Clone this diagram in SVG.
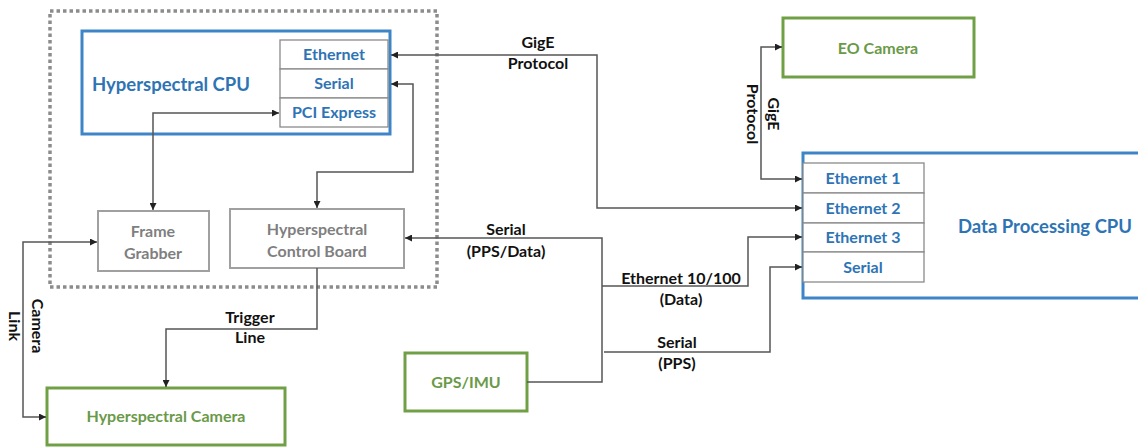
<svg xmlns="http://www.w3.org/2000/svg" width="1138" height="448" viewBox="0 0 1138 448">
<defs>
<marker id="ah" viewBox="0 0 10 10" refX="10" refY="5" markerWidth="7" markerHeight="7" markerUnits="userSpaceOnUse" orient="auto-start-reverse">
<path d="M0,0 L10,5 L0,10 z" fill="#222"/>
</marker>
<style>
.bl{fill:#fff;stroke:#3d85c6;stroke-width:3}
.gr{fill:#fff;stroke:#70a045;stroke-width:3}
.gy{fill:#fff;stroke:#a0a0a0;stroke-width:2}
.pt{fill:#fff;stroke:#8a8a8a;stroke-width:1.3}
.tb{font-family:Lato,"Liberation Sans",sans-serif;font-weight:bold;fill:#2e74b5;text-anchor:middle}
.tg{font-family:Lato,"Liberation Sans",sans-serif;font-weight:bold;fill:#6a9a48;text-anchor:middle;font-size:16px}
.ty{font-family:Lato,"Liberation Sans",sans-serif;font-weight:bold;fill:#7f7f7f;text-anchor:middle;font-size:16px}
.lb{font-family:Lato,"Liberation Sans",sans-serif;font-weight:bold;fill:#111;text-anchor:middle;font-size:16px}
.c{fill:none;stroke:#555;stroke-width:1.5}
</style>
</defs>
<rect x="50" y="11" width="387" height="276" fill="none" stroke="#8c8c8c" stroke-width="3.5" stroke-dasharray="3.5 3"/>

<g id="hyperspectral-cpu">
<rect class="bl" x="82" y="31" width="308" height="103"/>
<text class="tb" x="171" y="91" font-size="18.5">Hyperspectral CPU</text>
<rect class="pt" x="280" y="40" width="108" height="29"/>
<rect class="pt" x="280" y="69" width="108" height="29"/>
<rect class="pt" x="280" y="98" width="108" height="29"/>
<text class="tb" x="334" y="60" font-size="16">Ethernet</text>
<text class="tb" x="334" y="89" font-size="16">Serial</text>
<text class="tb" x="334" y="118" font-size="16">PCI Express</text>
</g>

<g id="frame-grabber">
<rect class="gy" x="98" y="211" width="111" height="60"/>
<text class="ty" x="153" y="237">Frame</text>
<text class="ty" x="153" y="259">Grabber</text>
</g>

<g id="control-board">
<rect class="gy" x="230" y="209" width="174" height="59"/>
<text class="ty" x="317" y="235">Hyperspectral</text>
<text class="ty" x="317" y="257">Control Board</text>
</g>

<g id="hyperspectral-camera">
<rect class="gr" x="47" y="388" width="238" height="57"/>
<text class="tg" x="166" y="422">Hyperspectral Camera</text>
</g>

<g id="gps-imu">
<rect class="gr" x="405" y="353" width="122" height="58"/>
<text class="tg" x="466" y="388">GPS/IMU</text>
</g>

<g id="eo-camera">
<rect class="gr" x="783" y="18" width="191" height="59"/>
<text class="tg" x="878" y="54">EO Camera</text>
</g>

<g id="data-processing-cpu">
<rect class="bl" x="803" y="153" width="340" height="145"/>
<rect class="pt" x="803" y="163" width="121" height="30"/>
<rect class="pt" x="803" y="193" width="121" height="30"/>
<rect class="pt" x="803" y="223" width="121" height="29"/>
<rect class="pt" x="803" y="252" width="121" height="30"/>
<text class="tb" x="863" y="184" font-size="16">Ethernet 1</text>
<text class="tb" x="863" y="214" font-size="16">Ethernet 2</text>
<text class="tb" x="863" y="243" font-size="16">Ethernet 3</text>
<text class="tb" x="863" y="273" font-size="16">Serial</text>
<text class="tb" x="1045" y="233" font-size="18.5">Data Processing CPU</text>
</g>

<g id="connectors">
<path class="c" d="M153,210 V113 H279" marker-start="url(#ah)" marker-end="url(#ah)"/>
<path class="c" d="M391,84 H413 V172 H317 V208" marker-start="url(#ah)" marker-end="url(#ah)"/>
<path class="c" d="M391,55 H597 V208 H802" marker-start="url(#ah)" marker-end="url(#ah)"/>
<path class="c" d="M405,238 H602 V382 H527" marker-start="url(#ah)"/>
<path class="c" d="M602,286 H748 V237 H802" marker-end="url(#ah)"/>
<path class="c" d="M604,352 H770 V267 H802" marker-end="url(#ah)"/>
<path class="c" d="M782,47 H761 V179 H802" marker-start="url(#ah)" marker-end="url(#ah)"/>
<path class="c" d="M97,242 H23 V417 H46" marker-start="url(#ah)" marker-end="url(#ah)"/>
<path class="c" d="M317,268 V329 H166 V387" marker-end="url(#ah)"/>
</g>

<g id="labels">
<text class="lb" x="538" y="48">GigE</text>
<text class="lb" x="538" y="69">Protocol</text>
<text class="lb" x="506" y="235">Serial</text>
<text class="lb" x="506" y="257">(PPS/Data)</text>
<text class="lb" x="681" y="284">Ethernet 10/100</text>
<text class="lb" x="681" y="305">(Data)</text>
<text class="lb" x="677" y="348">Serial</text>
<text class="lb" x="677" y="369">(PPS)</text>
<text class="lb" x="250" y="323">Trigger</text>
<text class="lb" x="250" y="343">Line</text>
<text class="lb" transform="translate(32,326) rotate(90)">Camera</text>
<text class="lb" transform="translate(9,326) rotate(90)">Link</text>
<text class="lb" transform="translate(768,114) rotate(90)">GigE</text>
<text class="lb" transform="translate(747,114) rotate(90)">Protocol</text>
</g>
</svg>
